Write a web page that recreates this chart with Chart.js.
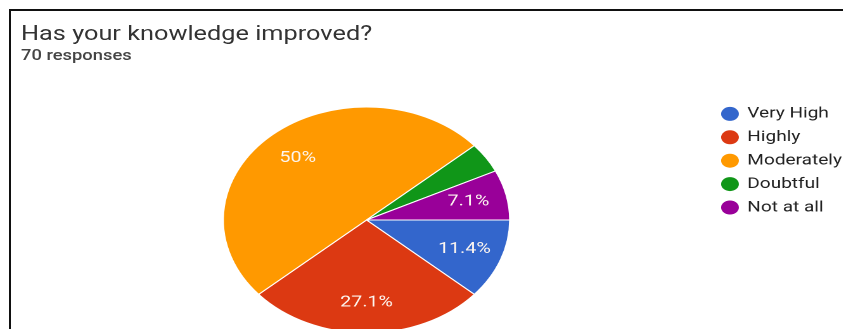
<!DOCTYPE html>
<html>
<head>
<meta charset="utf-8">
<script src="https://cdn.jsdelivr.net/npm/chart.js@4/dist/chart.umd.min.js"></script>
<style>
  html, body { margin: 0; padding: 0; background: #fff; overflow: hidden; }
  body { width: 843px; height: 329px; position: relative; }
  #frame {
    position: absolute; left: 9px; top: 9px; width: 840px; height: 330px;
    border-left: 2px solid #111; border-top: 2px solid #111;
  }
  /* the picture is stretched sideways, so everything is laid out narrow and scaled */
  #stage {
    position: absolute; left: 0; top: 0; width: 680px; height: 329px;
    transform: scaleX(1.2655); transform-origin: 0 0;
    font-family: Roboto, "Noto Sans", sans-serif;
  }
  #title { position: absolute; left: 16.6px; top: 22.5px; font-size: 20px; line-height: 20px; color: #333; white-space: nowrap; }
  #sub { position: absolute; left: 16.6px; top: 48.5px; font-size: 14.5px; line-height: 14px; color: #444; font-weight: 500; white-space: nowrap; }
  #chartBox { position: absolute; left: 17.4px; top: 98.4px; width: 657.3px; height: 244px; }
</style>
</head>
<body>
<div id="frame"></div>
<div id="stage">
  <div id="title">Has your knowledge improved?</div>
  <div id="sub">70 responses</div>
  <div id="chartBox"><canvas id="myChart"></canvas></div>
</div>
<script>
const categories = ["Very High", "Highly", "Moderately", "Doubtful", "Not at all"];
const counts = [8, 19, 35, 3, 5];
const colors = ["#3366cc", "#dc3912", "#ff9900", "#109618", "#990099"];

let total = counts.reduce((a, b) => a + b, 0);

function pctText(v) {
    let p = Math.round(v / total * 1000) / 10;
    return p + "%";
}

// Percent labels drawn inside the slices (small slices get none)
const pctLabels = {
    id: 'pctLabels',
    afterDatasetsDraw(chart) {
        const ctx = chart.ctx;
        const meta = chart.getDatasetMeta(0);
        ctx.save();
        ctx.fillStyle = '#fdf6f0';
        ctx.font = '15.5px Roboto, "Noto Sans", sans-serif';
        ctx.textAlign = 'center';
        ctx.textBaseline = 'middle';
        meta.data.forEach(function(arc, i) {
            if (counts[i] / total < 0.05) return;
            const p = arc.getProps(['x', 'y', 'startAngle', 'endAngle', 'outerRadius']);
            const mid = (p.startAngle + p.endAngle) / 2;
            const r = p.outerRadius * 0.73;
            ctx.fillText(pctText(counts[i]), p.x + Math.cos(mid) * r, p.y + Math.sin(mid) * r);
        });
        ctx.restore();
    }
};

const config = {
    type: 'pie',
    data: {
        labels: categories,
        datasets: [{
            data: counts,
            backgroundColor: colors,
            borderColor: '#fff',
            borderWidth: 1,
            radius: 113
        }]
    },
    options: {
        responsive: true,
        maintainAspectRatio: false,
        animation: false,
        devicePixelRatio: 2,
        rotation: 90,
        layout: { padding: 0 },
        plugins: {
            legend: {
                position: 'right',
                align: 'start',
                labels: {
                    usePointStyle: true,
                    pointStyle: 'circle',
                    boxWidth: 12.4,
                    boxHeight: 10.6,
                    padding: 8.4,
                    color: '#222',
                    font: { family: 'Roboto, "Noto Sans", sans-serif', size: 15 }
                }
            },
            tooltip: { enabled: false }
        }
    },
    plugins: [pctLabels]
};

new Chart(document.getElementById("myChart"), config);
</script>
</body>
</html>
